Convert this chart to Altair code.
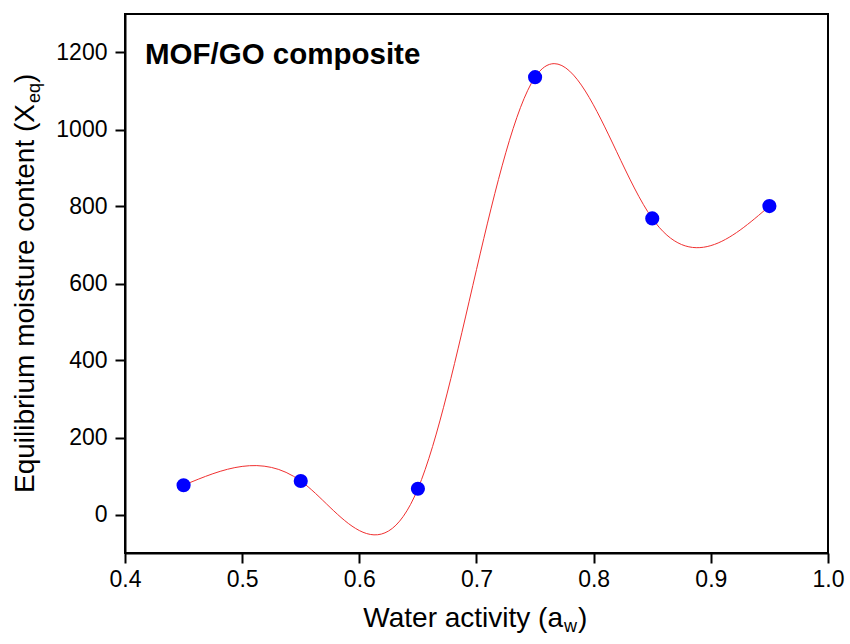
import altair as alt
import pandas as pd

# Data
aw = [0.45, 0.55, 0.65, 0.75, 0.85, 0.95]
xeq = [76, 87, 67, 1136, 769, 801]
x_ticks = [0.4, 0.5, 0.6, 0.7, 0.8, 0.9, 1.0]
y_ticks = [0, 200, 400, 600, 800, 1000, 1200]

x_title_main = ["Water activity (a"]
x_title_sub = ["w"]
y_title_main = ["Equilibrium moisture content (X"]
y_title_sub = ["eq"]
close_paren = [")"]
label_text = ["MOF/GO composite"]

df = pd.DataFrame({"aw": aw, "xeq": xeq})

W, H = 703, 539
FONT = "Liberation Sans"

xs = alt.Scale(domain=[0.4, 1.0], nice=False, zero=False)
ys = alt.Scale(domain=[-100, 1300], nice=False, zero=False)

common_axis = dict(
    title=None, grid=False, domainColor="black", domainWidth=2,
    tickColor="black", tickWidth=2, tickSize=10,
    labelFontSize=23, labelFont=FONT, labelColor="black",
    labelFlush=False, labelOverlap=False,
)
xax = alt.Axis(values=x_ticks, format=".1f", labelPadding=5, **common_axis)
yax = alt.Axis(values=y_ticks, format="d", labelPadding=8, **common_axis)

enc = dict(
    x=alt.X("aw:Q", scale=xs, axis=xax),
    y=alt.Y("xeq:Q", scale=ys, axis=yax),
)

line = alt.Chart(df).mark_line(
    color="#f03030", strokeWidth=1, interpolate="natural"
).encode(**enc)

points = alt.Chart(df).mark_circle(
    color="#0000ff", size=200, opacity=1
).encode(**enc)


def txt(values, x, y, size, align="left", angle=0, bold=False):
    return alt.Chart(pd.DataFrame({"t": values})).mark_text(
        align=align, baseline="alphabetic", fontSize=size, font=FONT,
        color="black", angle=angle, fontWeight="bold" if bold else "normal",
    ).encode(x=alt.value(x), y=alt.value(y), text="t:N")


# x-axis title with subscript
xt1 = txt(x_title_main, 438, 613, 28, align="right")
xt2 = txt(x_title_sub, 439, 618, 18, align="left")
xt3 = txt(close_paren, 453, 613, 28, align="left")

# y-axis title (rotated) with subscript
yt1 = txt(y_title_main, -91, 90, 28, align="right", angle=270)
yt2 = txt(y_title_sub, -85, 89, 18, align="left", angle=270)
yt3 = txt(close_paren, -91, 69, 28, align="left", angle=270)

annot = txt(label_text, 20, 50, 29.5, align="left", bold=True)

chart = alt.layer(line, points, xt1, xt2, xt3, yt1, yt2, yt3, annot).properties(
    width=W, height=H,
    autosize=alt.AutoSizeParams(type="none"),
    padding={"left": 125, "top": 14, "right": 22, "bottom": 91},
    background="white",
).configure_view(stroke="black", strokeWidth=2)

chart.save("out.html", embed_options={"renderer": "svg", "actions": False})
